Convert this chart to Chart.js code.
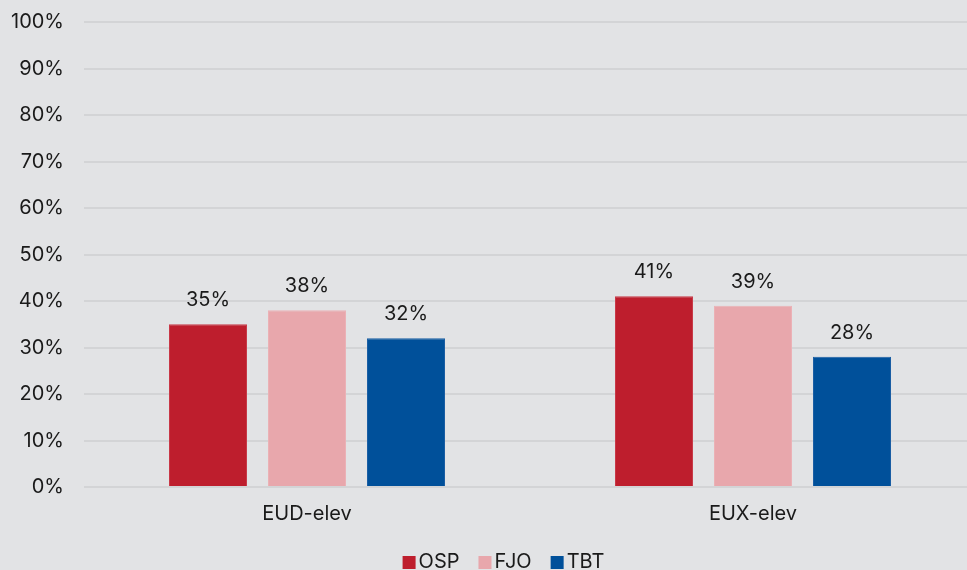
<!DOCTYPE html>
<html>
<head>
<meta charset="utf-8">
<script src="https://cdn.jsdelivr.net/npm/chart.js@4/dist/chart.umd.min.js"></script>
<style>
  html, body { margin: 0; padding: 0; background: #e2e3e5; overflow: hidden; }
  #wrap { width: 976px; height: 580px; position: relative; margin-top: -10px; }
</style>
</head>
<body>
<div id="wrap"><canvas id="c"></canvas></div>
<script>
const categories = ["EUD-elev", "EUX-elev"];
const seriesNames = ["OSP", "FJO", "TBT"];
const ospValues = [35, 41];
const fjoValues = [38, 39];
const tbtValues = [32, 28];
const yTicks = [0, 10, 20, 30, 40, 50, 60, 70, 80, 90, 100];

const colors = ["#be1e2d", "#e8a7ac", "#00509a"];
const borders = ["#c83a48", "#ebb2b6", "#1a5ea4"];
const FONT = "Inter, 'Noto Sans', sans-serif";
const TEXT = "#1a1a1a";

const valueLabels = {
  id: "valueLabels",
  afterDatasetsDraw(chart) {
    const ctx = chart.ctx;
    ctx.save();
    ctx.font = "20px " + FONT;
    ctx.fillStyle = TEXT;
    ctx.textAlign = "center";
    ctx.textBaseline = "middle";
    chart.data.datasets.forEach((ds, i) => {
      chart.getDatasetMeta(i).data.forEach((bar, j) => {
        ctx.fillText(ds.data[j] + "%", bar.x, bar.y - 24);
      });
    });
    ctx.restore();
  }
};

const customLegend = {
  id: "customLegend",
  afterDraw(chart) {
    const ctx = chart.ctx;
    ctx.save();
    ctx.font = "20px " + FONT;
    ctx.textBaseline = "alphabetic";
    ctx.textAlign = "left";
    const box = 13, gapBox = 3, gapItem = 19;
    const items = chart.data.datasets.map(ds => ({ text: ds.label, color: ds.backgroundColor, w: ctx.measureText(ds.label).width }));
    const total = items.reduce((s, it) => s + box + gapBox + it.w, 0) + gapItem * (items.length - 1);
    let x = 503.5 - total / 2;
    const baseY = 578;
    items.forEach(it => {
      ctx.fillStyle = it.color;
      ctx.fillRect(x, 566, box, box);
      ctx.fillStyle = TEXT;
      ctx.fillText(it.text, x + box + gapBox, baseY);
      x += box + gapBox + it.w + gapItem;
    });
    ctx.restore();
  }
};

new Chart(document.getElementById("c"), {
  type: "bar",
  data: {
    labels: categories,
    datasets: [ospValues, fjoValues, tbtValues].map((d, i) => ({
      label: seriesNames[i],
      data: d,
      backgroundColor: colors[i],
      borderColor: borders[i],
      borderWidth: 1,
      categoryPercentage: 0.666,
      barPercentage: 0.788
    }))
  },
  options: {
    responsive: true,
    maintainAspectRatio: false,
    animation: false,
    devicePixelRatio: 1,
    layout: { padding: { top: 5, left: 0, right: 0, bottom: 29 } },
    scales: {
      x: {
        grid: { display: false, drawTicks: false },
        border: { display: false },
        ticks: { color: TEXT, font: { family: FONT, size: 20 }, padding: 15 }
      },
      y: {
        min: 0, max: 100,
        afterBuildTicks(axis) { axis.ticks = yTicks.map(v => ({ value: v })); },
        afterFit(axis) { axis.width = 84; },
        grid: { color: "#d3d4d6", lineWidth: 2, drawTicks: false },
        border: { display: false },
        ticks: {
          color: TEXT,
          font: { family: FONT, size: 20 },
          padding: 20,
          callback: v => v + "%"
        }
      }
    },
    plugins: {
      legend: { display: false },
      tooltip: { enabled: false }
    }
  },
  plugins: [valueLabels, customLegend]
});
</script>
</body>
</html>
